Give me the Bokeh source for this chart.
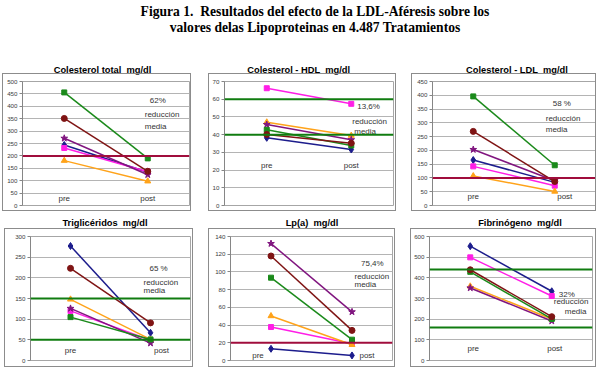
from bokeh.plotting import figure
from bokeh.models import Range1d, FactorRange, FixedTicker, Span, ColumnDataSource, Div, Spacer
from bokeh.layouts import column, row
from bokeh.core.properties import value
from bokeh.embed import file_html
from bokeh.resources import INLINE

CATEGORIES = ["pre", "post"]

# series order: navy, magenta, orange, purple, green, maroon
ct_pre = [244, 232, 181, 271, 456, 351]
ct_post = [134, 136, 98, 124, 190, 138]
hdl_pre = [38.2, 66.2, 47.0, 45.7, 42.7, 40.1]
hdl_post = [31.6, 57.4, 39.5, 37.1, 33.9, 35.2]
ldl_pre = [165, 142, 107, 203, 396, 269]
ldl_post = [84, 72, 51, 90, 146, 87]
tg_pre = [277, 120, 148, 126, 105, 223]
tg_post = [67, 49, 51, 42, 51, 91]
lpa_pre = [13.2, 37.8, 50.3, 132, 93.5, 118]
lpa_post = [5.7, 18.9, 17.8, 54.9, 23.5, 34]
fib_pre = [553, 499, 359, 351, 429, 439]
fib_post = [335, 312, 201, 191, 201, 212]

panel_titles = ["Colesterol total  mg/dl", "Colesterol - HDL  mg/dl", "Colesterol - LDL  mg/dl",
                "Triglicéridos  mg/dl", "Lp(a)  mg/dl", "Fibrinógeno  mg/dl"]
y_max = [500, 70, 450, 300, 140, 600]
y_step = [50, 10, 50, 50, 20, 100]
ct_limits = [200]
hdl_limits = [40, 60]
ldl_limits = [100]
tg_limits = [50, 150]
lpa_limits = [20]
fib_limits = [160, 440]
reductions = ["62%", "13,6%", "58 %", "65 %", "75,4%", "32%"]
reduction_words = ["reducción", "media"]

MAIN_TITLE_1 = "Figura 1.  Resultados del efecto de la LDL-Aféresis sobre los"
MAIN_TITLE_2 = "valores delas Lipoproteinas en 4.487 Tratamientos"

# ---- styles ----
SERIES_COLORS = ["#1c1c8c", "#ff1ee6", "#ffa31a", "#80157f", "#1b8a1b", "#7f1414"]
SERIES_MARKERS = ["diamond", "square", "triangle", "star", "square", "circle"]
SERIES_SIZES = [7, 5, 6, 7, 5, 6]
RED_LINE = "#a00d3c"
GREEN_LINE = "#107c10"
FONT = "Liberation Sans"


def html_text(s):
    return s.replace("  ", "&nbsp; ")


panels = [
    dict(pre=ct_pre, post=ct_post, lim=ct_limits, lc=RED_LINE, w=189, mbl=19, mbr=3,
         tshift=5, lab_y=28, lab_dx=[0, 0], ann_dx=[2, -3, -3], ann_y=[423, 366, 318]),
    dict(pre=hdl_pre, post=hdl_post, lim=hdl_limits, lc=GREEN_LINE, w=188, mbl=13, mbr=4,
         tshift=-4.3, lab_y=22.7, lab_dx=[0, 0], ann_dx=[6, 1, 3], ann_y=[55.8, 47.3, 41.6]),
    dict(pre=ldl_pre, post=ldl_post, lim=ldl_limits, lc=RED_LINE, w=185, mbl=20, mbr=2,
         tshift=12.5, lab_y=32.6, lab_dx=[0, 10], ann_dx=[-2, -9, -9], ann_y=[370, 316, 274]),
    dict(pre=tg_pre, post=tg_post, lim=tg_limits, lc=GREEN_LINE, w=189, mbl=25, mbr=4,
         tshift=5.5, lab_y=24.3, lab_dx=[0, 11], ann_dx=[-1, -7, -7], ann_y=[223, 188, 170]),
    dict(pre=lpa_pre, post=lpa_post, lim=lpa_limits, lc=RED_LINE, w=187, mbl=21, mbr=4,
         tshift=9.5, lab_y=5.7, lab_dx=[-13, 15], ann_dx=[9, 2.5, 2.5], ann_y=[109.7, 94.6, 85.9]),
    dict(pre=fib_pre, post=fib_post, lim=fib_limits, lc=GREEN_LINE, w=186, mbl=17, mbr=5,
         tshift=16, lab_y=58, lab_dx=[3, 3], ann_dx=[7, 2, 13], ann_y=[318, 285, 237]),
]


def make_title(text, w, h, pad_top, shift):
    pl = max(0, 2 * shift)
    pr = max(0, -2 * shift)
    html = (f'<div style="width:{w}px;height:{h}px;box-sizing:border-box;'
            f'padding:{pad_top}px {pr}px 0 {pl}px;text-align:center;'
            f"font-family:'{FONT}';font-weight:bold;font-size:9.3px;line-height:11px;"
            f'color:#000;white-space:nowrap">{html_text(text)}</div>')
    return Div(text=html, width=w, height=h, margin=0)


def make_panel(i, spec, fig_h, mbt, mbb, title_h, title_pad):
    ticks = list(range(0, y_max[i] + 1, y_step[i]))
    p = figure(width=spec["w"], height=fig_h, x_range=FactorRange(factors=CATEGORIES),
               y_range=Range1d(0, y_max[i]), output_backend="svg", toolbar_location=None,
               x_axis_location=None, min_border_left=spec["mbl"], min_border_right=spec["mbr"],
               min_border_top=mbt, min_border_bottom=mbb,
               styles={"border": "1px solid #8c8c8c"})
    p.background_fill_color = "white"
    p.border_fill_color = "white"
    p.outline_line_color = "#a6a6a6"
    p.outline_line_width = 1
    p.xgrid.visible = False
    p.ygrid.ticker = FixedTicker(ticks=ticks)
    p.ygrid.grid_line_color = "#b4b4b4"
    p.ygrid.grid_line_width = 1
    ax = p.yaxis[0]
    ax.ticker = FixedTicker(ticks=ticks)
    ax.axis_line_color = "#868686"
    ax.major_tick_line_color = "#868686"
    ax.major_tick_out = 3
    ax.major_tick_in = 0
    ax.minor_tick_out = 0
    ax.minor_tick_in = 0
    ax.major_label_standoff = 2
    ax.major_label_text_font = FONT
    ax.major_label_text_font_size = "6.2px"
    ax.major_label_text_color = "#404040"

    for lim in spec["lim"]:
        p.add_layout(Span(location=lim, dimension="width", line_color=spec["lc"], line_width=2))

    for k in range(len(spec["pre"])):
        ys = [spec["pre"][k], spec["post"][k]]
        p.line(x=CATEGORIES, y=ys, line_color=SERIES_COLORS[k], line_width=1.5)
        p.scatter(x=CATEGORIES, y=ys, marker=SERIES_MARKERS[k], size=SERIES_SIZES[k],
                  fill_color=SERIES_COLORS[k], line_color=SERIES_COLORS[k])

    lab = ColumnDataSource(dict(x=CATEGORIES, y=[spec["lab_y"]] * 2, t=CATEGORIES, dx=spec["lab_dx"]))
    p.text(x="x", y="y", text="t", x_offset="dx", source=lab, text_font=value(FONT),
           text_font_size=value("8px"), text_align="center", text_baseline="middle",
           text_color="#333333")

    ann = ColumnDataSource(dict(x=["post"] * 3, y=spec["ann_y"],
                                t=[reductions[i]] + reduction_words, dx=spec["ann_dx"]))
    p.text(x="x", y="y", text="t", x_offset="dx", source=ann, text_font=value(FONT),
           text_font_size=value("8px"), text_align="left", text_baseline="middle",
           text_color="#333333")

    t = make_title(panel_titles[i], spec["w"] + 2, title_h, title_pad, spec["tshift"])
    return column(t, p, spacing=0)


main_title = Div(
    text=(f'<div style="width:600px;height:61px;box-sizing:border-box;padding:4px 0 0 30px;'
          f"text-align:center;font-family:'Liberation Serif';font-weight:bold;font-size:13.6px;"
          f'line-height:16px;color:#000;white-space:nowrap">{html_text(MAIN_TITLE_1)}<br>'
          f'{html_text(MAIN_TITLE_2)}</div>'),
    width=600, height=61, margin=0)

row1 = row(Spacer(width=2, height=1),
           make_panel(0, panels[0], 138, 7, 7, 12, 1), Spacer(width=15, height=1),
           make_panel(1, panels[1], 138, 7, 7, 12, 1), Spacer(width=13, height=1),
           make_panel(2, panels[2], 138, 7, 7, 12, 1), spacing=0)
row2 = row(Spacer(width=4, height=1),
           make_panel(3, panels[3], 139, 7, 8, 17, 7), Spacer(width=13, height=1),
           make_panel(4, panels[4], 139, 7, 8, 17, 7), Spacer(width=13, height=1),
           make_panel(5, panels[5], 139, 7, 8, 17, 7), spacing=0)

layout = column(main_title, row1, row2, spacing=0)

open("out.html", "w").write(file_html(layout, INLINE))
